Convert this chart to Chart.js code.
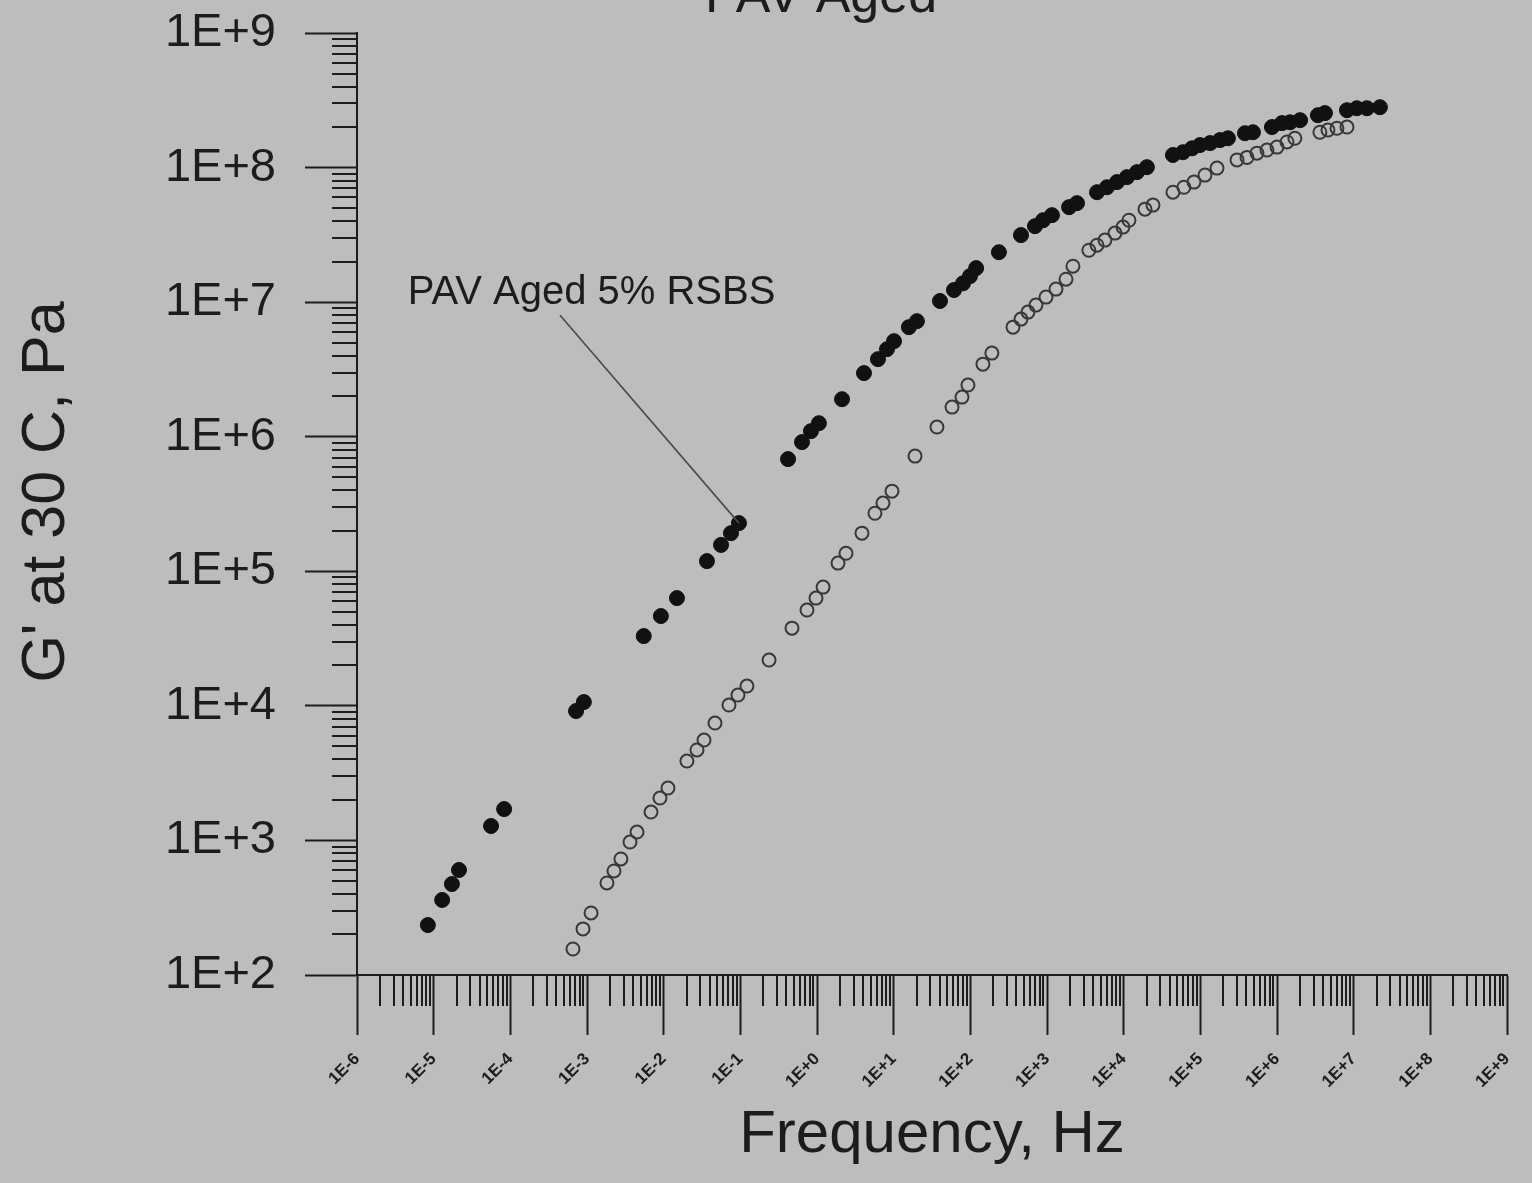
<!DOCTYPE html>
<html>
<head>
<meta charset="utf-8">
<script src="https://cdn.jsdelivr.net/npm/chart.js@4.4.0/dist/chart.umd.min.js"></script>
<style>
html,body{margin:0;padding:0;background:#bdbdbd;overflow:hidden}
#wrap{position:relative;width:1532px;height:1183px}
canvas{display:block}
</style>
</head>
<body>
<div id="wrap"><canvas id="c" width="1532" height="1183"></canvas></div>
<script>
const FONT = "'Liberation Sans', Arial, Helvetica, sans-serif";
const chartTitle = 'PAV Aged';
const xAxisTitle = 'Frequency, Hz';
const yAxisTitle = "G' at 30 C, Pa";

const xTickValues = [1e-6,1e-5,1e-4,1e-3,1e-2,1e-1,1e0,1e1,1e2,1e3,1e4,1e5,1e6,1e7,1e8,1e9];
const xTickLabels = ['1E-6','1E-5','1E-4','1E-3','1E-2','1E-1','1E+0','1E+1','1E+2','1E+3','1E+4','1E+5','1E+6','1E+7','1E+8','1E+9'];
const yTickValues = [1e2,1e3,1e4,1e5,1e6,1e7,1e8,1e9];
const yTickLabels = ['1E+2','1E+3','1E+4','1E+5','1E+6','1E+7','1E+8','1E+9'];

// PAV Aged 5% RSBS (filled symbols)
const rsbsFreq = [8.4e-6,1.29e-5,1.73e-5,2.14e-5,5.6e-5,8.3e-5,7.2e-4,9.1e-4,5.5e-3,9.2e-3,0.0149,0.0367,0.056,0.0755,0.0959,
  0.419,0.637,0.834,1.06,2.12,4.10,6.24,8.18,10.1,15.8,20.1,40.2,61.2,80.2,98.9,119,236,458,697,887,1160,1940,2460,
  4490,6050,8180,11040,14900,20100,43950,59300,77800,98900,1.34e5,1.80e5,2.29e5,3.82e5,4.86e5,8.59e5,1.16e6,1.48e6,2.0e6,
  3.42e6,4.22e6,8.18e6,1.10e7,1.49e7,2.20e7];
const rsbsG = [235,361,474,603,1280,1710,9150,10670,33000,46500,63200,1.19e5,1.57e5,1.92e5,2.28e5,
  6.82e5,9.12e5,1.10e6,1.26e6,1.90e6,2.97e6,3.77e6,4.47e6,5.13e6,6.52e6,7.22e6,1.02e7,1.23e7,1.38e7,1.56e7,1.79e7,2.35e7,3.15e7,3.67e7,4.06e7,4.43e7,5.08e7,5.44e7,
  6.56e7,7.14e7,7.80e7,8.49e7,9.25e7,1.007e8,1.24e8,1.30e8,1.39e8,1.47e8,1.52e8,1.60e8,1.65e8,1.80e8,1.83e8,2.00e8,2.14e8,2.17e8,2.25e8,
  2.45e8,2.54e8,2.67e8,2.76e8,2.76e8,2.81e8];

// PAV Aged base binder (open symbols)
const baseFreq = [6.56e-4,8.87e-4,1.13e-3,1.82e-3,2.25e-3,2.77e-3,3.64e-3,4.49e-3,6.84e-3,8.95e-3,0.01138,0.0201,0.0272,0.0336,0.0467,
  0.0711,0.0931,0.122,0.237,0.472,0.740,0.970,1.20,1.88,2.39,3.86,5.70,7.26,9.51,19.0,36.7,57.7,77.8,93.1,146,191,
  360,458,565,718,971,1310,1770,2180,3520,4490,5700,7710,9790,11720,18970,24100,43950,61100,82600,1.15e5,1.65e5,
  3.01e5,4.06e5,5.48e5,7.40e5,1.00e6,1.35e6,1.71e6,3.63e6,4.62e6,6.05e6,8.18e6];
const baseG = [156,220,289,483,593,728,973,1154,1626,2065,2450,3890,4700,5570,7450,
  10140,12030,14030,21900,37800,51500,63200,76300,1.15e5,1.36e5,1.92e5,2.70e5,3.21e5,3.94e5,7.18e5,1.18e6,1.66e6,1.97e6,2.42e6,3.46e6,4.18e6,
  6.52e6,7.48e6,8.43e6,9.51e6,1.09e7,1.25e7,1.48e7,1.85e7,2.43e7,2.65e7,2.89e7,3.26e7,3.61e7,4.06e7,4.91e7,5.26e7,6.56e7,7.14e7,7.80e7,8.79e7,9.91e7,
  1.14e8,1.19e8,1.28e8,1.35e8,1.42e8,1.55e8,1.65e8,1.83e8,1.90e8,1.96e8,2.00e8];

const annotationText = 'PAV Aged 5% RSBS';
const annotationTextAt = {x: 4.6e-6, y: 1.17e7};
const annotationLineFrom = {x: 4.45e-4, y: 8.0e6};
const annotationLineTo = {x: 0.0959, y: 2.28e5};

function toPoints(xs, ys){ return xs.map((x,i)=>({x:x, y:ys[i]})); }
function labelFor(values, labels, v){
  const i = values.findIndex(t => Math.abs(Math.log10(t) - Math.log10(v)) < 1e-6);
  return i >= 0 ? labels[i] : '';
}

const INK = '#1c1c1c';

const bgPlugin = {
  id: 'bg',
  beforeDraw(chart){
    const ctx = chart.ctx;
    ctx.save();
    ctx.fillStyle = '#bdbdbd';
    ctx.fillRect(0,0,chart.width,chart.height);
    ctx.restore();
  }
};

const extrasPlugin = {
  id: 'extras',
  afterDraw(chart){
    const ctx = chart.ctx, xs = chart.scales.x, ys = chart.scales.y, ca = chart.chartArea;
    ctx.save();
    ctx.strokeStyle = INK;
    ctx.lineWidth = 2;
    ctx.beginPath();
    for (let d = 0; d < xTickValues.length - 1; d++){
      for (let k = 2; k <= 9; k++){
        const px = Math.round(xs.getPixelForValue(xTickValues[d]*k));
        ctx.moveTo(px, ca.bottom);
        ctx.lineTo(px, ca.bottom + 31);
      }
    }
    for (let d = 0; d < yTickValues.length - 1; d++){
      for (let k = 2; k <= 9; k++){
        const py = Math.round(ys.getPixelForValue(yTickValues[d]*k));
        ctx.moveTo(ca.left - 25, py);
        ctx.lineTo(ca.left, py);
      }
    }
    ctx.stroke();

    // annotation
    ctx.strokeStyle = '#4a4a4a';
    ctx.lineWidth = 1.6;
    ctx.beginPath();
    ctx.moveTo(xs.getPixelForValue(annotationLineFrom.x), ys.getPixelForValue(annotationLineFrom.y));
    ctx.lineTo(xs.getPixelForValue(annotationLineTo.x), ys.getPixelForValue(annotationLineTo.y));
    ctx.stroke();
    ctx.fillStyle = INK;
    ctx.font = '40px ' + FONT;
    ctx.textAlign = 'left';
    ctx.textBaseline = 'middle';
    ctx.fillText(annotationText, xs.getPixelForValue(annotationTextAt.x), ys.getPixelForValue(annotationTextAt.y));

    // y axis title
    ctx.save();
    ctx.translate(47, 492);
    ctx.rotate(-Math.PI/2);
    ctx.font = '61px ' + FONT;
    ctx.textAlign = 'center';
    ctx.textBaseline = 'middle';
    ctx.fillText(yAxisTitle, 0, 0);
    ctx.restore();

    // chart title, cut off by the top edge as in the original
    ctx.font = '52px ' + FONT;
    ctx.textAlign = 'center';
    ctx.textBaseline = 'alphabetic';
    ctx.fillText(chartTitle, 821, 12);
    ctx.restore();
  }
};

new Chart(document.getElementById('c'), {
  type: 'scatter',
  data: {
    datasets: [
      {
        label: 'PAV Aged 5% RSBS',
        data: toPoints(rsbsFreq, rsbsG),
        pointStyle: 'circle',
        pointRadius: 7.5,
        pointBackgroundColor: '#111111',
        pointBorderColor: '#111111',
        pointBorderWidth: 1,
        showLine: false
      },
      {
        label: 'PAV Aged',
        data: toPoints(baseFreq, baseG),
        pointStyle: 'circle',
        pointRadius: 6.5,
        pointBackgroundColor: 'rgba(0,0,0,0)',
        pointBorderColor: '#383838',
        pointBorderWidth: 2,
        showLine: false
      }
    ]
  },
  options: {
    responsive: false,
    animation: false,
    devicePixelRatio: 1,
    layout: { padding: { top: 33, right: 25, left: 0, bottom: 0 } },
    plugins: { legend: { display: false }, tooltip: { enabled: false }, title: { display: false } },
    scales: {
      x: {
        type: 'logarithmic',
        position: 'bottom',
        min: 1e-6, max: 1e9,
        afterBuildTicks: s => { s.ticks = xTickValues.map(v => ({ value: v })); },
        afterFit: s => { s.height = 208; s.paddingLeft = 0; s.paddingRight = 0; },
        ticks: {
          autoSkip: false, minRotation: 45, maxRotation: 45, padding: 14,
          color: INK, font: { size: 17, family: FONT, weight: 'bold' },
          callback: v => labelFor(xTickValues, xTickLabels, v)
        },
        grid: { drawOnChartArea: false, drawTicks: true, tickLength: 60, tickWidth: 2, tickColor: INK, color: INK },
        border: { display: true, color: INK, width: 2 },
        title: { display: true, text: xAxisTitle, color: INK, font: { size: 60, family: FONT }, padding: { top: 0, bottom: 12 } }
      },
      y: {
        type: 'logarithmic',
        position: 'left',
        min: 1e2, max: 1e9,
        afterBuildTicks: s => { s.ticks = yTickValues.map(v => ({ value: v })); },
        afterFit: s => { s.width = 357; s.paddingTop = 0; s.paddingBottom = 0; },
        ticks: {
          autoSkip: false, padding: 29,
          color: INK, font: { size: 47, family: FONT },
          callback: v => labelFor(yTickValues, yTickLabels, v)
        },
        grid: { drawOnChartArea: false, drawTicks: true, tickLength: 52, tickWidth: 2, tickColor: INK, color: INK },
        border: { display: true, color: INK, width: 2 },
        title: { display: false }
      }
    }
  },
  plugins: [bgPlugin, extrasPlugin]
});
</script>
</body>
</html>
